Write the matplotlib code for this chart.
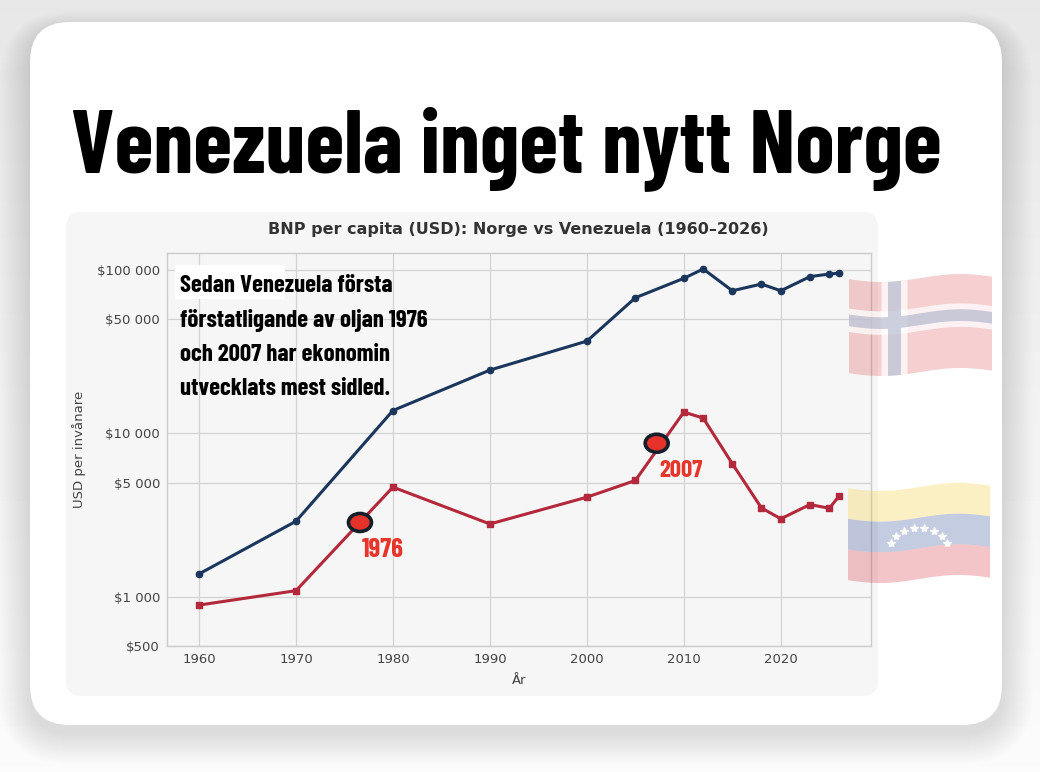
import numpy as np
import matplotlib
matplotlib.use("Agg")
import matplotlib.pyplot as plt
from matplotlib import font_manager as fm
from matplotlib.patches import FancyBboxPatch, Polygon, Rectangle, Ellipse
from matplotlib.lines import Line2D
from matplotlib.transforms import Affine2D
from matplotlib.ticker import FixedLocator, FuncFormatter, NullLocator

# ---------------- data ----------------
years = [1960, 1970, 1980, 1990, 2000, 2005, 2010, 2012, 2015, 2018, 2020, 2023, 2025, 2026]
gdp_norway = [1380, 2900, 13800, 24400, 36700, 67600, 88900, 101400, 74600, 82000, 74600, 91000, 94500, 95500]
gdp_venezuela = [890, 1090, 4690, 2790, 4070, 5150, 13500, 12400, 6520, 3500, 3000, 3670, 3480, 4130]
mark_years = [1976.6, 2007.2]
mark_values = [2850, 8700]
mark_labels = ["1976", "2007"]
y_ticks = [500, 1000, 5000, 10000, 50000, 100000]
x_ticks = [1960, 1970, 1980, 1990, 2000, 2010, 2020]
headline = "Venezuela inget nytt Norge"
chart_title = "BNP per capita (USD): Norge vs Venezuela (1960\u20132026)"
note_lines = ["Sedan Venezuela första", "förstatligande av oljan 1976",
              "och 2007 har ekonomin", "utvecklats mest sidled."]

W, H = 1040, 772
fig = plt.figure(figsize=(W / 100, H / 100), dpi=100, facecolor="#f3f3f3")
# pixel transform, origin top-left
T = Affine2D().scale(1 / 100, -1 / 100).translate(0, H / 100) + fig.dpi_scale_trans

names = {f.name for f in fm.fontManager.ttflist}
cond_prop = dict(family="Barlow Condensed", weight="bold") if "Barlow Condensed" in names \
    else dict(family="Roboto Condensed", weight="bold")

# ------------- background gradient -------------
bg = fig.add_axes([0, 0, 1, 1], zorder=-100)
grad = np.linspace(0.905, 0.985, 256).reshape(-1, 1)
bg.imshow(grad, cmap="gray", vmin=0, vmax=1, aspect="auto", extent=[0, 1, 0, 1], origin="upper")
bg.set_axis_off()

# ------------- shadow, card, panel -------------
for k in range(1, 32):
    fig.patches.append(FancyBboxPatch((30 - k, 22 - k * 0.6 + 8), 972 + 2 * k, 703 + k * 1.6,
                                      boxstyle="round,pad=0,rounding_size=%g" % (40 + k),
                                      transform=T, facecolor="black", edgecolor="none",
                                      alpha=0.0055, zorder=-30))
fig.patches.append(FancyBboxPatch((30, 22), 972, 703, boxstyle="round,pad=0,rounding_size=40",
                                  transform=T, facecolor="white", edgecolor="none", zorder=-20))
fig.patches.append(FancyBboxPatch((66, 212), 812, 484, boxstyle="round,pad=0,rounding_size=16",
                                  transform=T, facecolor="#f6f6f6", edgecolor="none", zorder=-10))

# ------------- axes -------------
ax = fig.add_axes([167 / W, 1 - 646 / H, (871 - 167) / W, (646 - 253) / H])
ax.set_facecolor("#f6f6f6")
ax.set_yscale("log")
ax.plot(years, gdp_norway, color="#1b365d", lw=2.2, marker="o", ms=4.5, zorder=3)
ax.plot(years, gdp_venezuela, color="#b3283a", lw=2.2, marker="s", ms=4.5, zorder=3)
ax.set_xlim(1956.7, 2029.3)
ax.set_ylim(500, 127000)
ax.yaxis.set_major_locator(FixedLocator(y_ticks))
ax.yaxis.set_minor_locator(NullLocator())
ax.yaxis.set_major_formatter(FuncFormatter(lambda v, p: "$" + format(int(round(v)), ",").replace(",", " ")))
ax.set_xticks(x_ticks)
ax.grid(True, color="#d3d3d3", lw=0.9)
ax.set_axisbelow(True)
for s in ax.spines.values():
    s.set_color("#cccccc")
    s.set_linewidth(1.0)
ax.tick_params(length=0, pad=5, labelsize=9.5, colors="#444444")
ax.set_xlabel("År", fontsize=9.5, color="#444444", labelpad=6)
ax.set_ylabel("USD per invånare", fontsize=9.5, color="#444444", labelpad=8)

# marker ellipses for the annotated years
for xv, yv in zip(mark_years, mark_values):
    dx, dy = ax.transData.transform((xv, yv))
    fig.patches.append(Ellipse((dx, H - dy), 23, 18, transform=T, facecolor="#e5322a",
                               edgecolor="#13202c", lw=2.6, zorder=4))

fig.canvas.draw()
renderer = fig.canvas.get_renderer()


def fit(t, target_w):
    bb = t.get_window_extent(renderer)
    t.set_fontsize(t.get_fontsize() * target_w / bb.width)


# ------------- texts -------------
t = fig.text(506, 172, headline, transform=T, ha="center", va="baseline", fontsize=60,
             color="black", **cond_prop)
fit(t, 872)

t = fig.text(518, 234, chart_title, transform=T, ha="center", va="baseline", fontsize=11,
             color="#333333", fontweight="bold", family="DejaVu Sans")
fit(t, 497)

fig.patches.append(Rectangle((175, 265), 110, 34, transform=T, facecolor="white",
                             edgecolor="none", zorder=2))
baselines = [292, 327, 361, 395]
note_texts = []
for ln, by in zip(note_lines, baselines):
    note_texts.append(fig.text(180, by, ln, transform=T, ha="left", va="baseline",
                               fontsize=16, color="black", zorder=5, **cond_prop))
bb = note_texts[1].get_window_extent(renderer)
fs = 16 * 248 / bb.width
for nt in note_texts:
    nt.set_fontsize(fs)

for (lx, ly, w), lab in zip([(362, 557, 42), (659, 477, 43)], mark_labels):
    t = fig.text(lx, ly, lab, transform=T, ha="left", va="baseline", fontsize=16,
                 color="#e8352b", zorder=5, **cond_prop)
    fit(t, w)


# ------------- flags -------------
def flag_poly(x0, y0, w, h, u0, u1, v0, v1, color, alpha, amp=4.0):
    us = np.linspace(u0, u1, 25)
    top = [(x0 + u * w, y0 + v0 * h + amp * np.sin(2 * np.pi * u * 0.9 + 0.3)) for u in us]
    bot = [(x0 + u * w, y0 + v1 * h + amp * np.sin(2 * np.pi * u * 0.9 + 0.3)) for u in us[::-1]]
    fig.patches.append(Polygon(top + bot, closed=True, transform=T, facecolor=color,
                               edgecolor="none", alpha=alpha, zorder=6))


# Norway
nx0, ny0, nw, nh = 849, 278, 143, 94
flag_poly(nx0, ny0, nw, nh, 0, 1, 0, 1, "#d9252b", 0.22)
flag_poly(nx0, ny0, nw, nh, 5 / 22, 9 / 22, 0, 1, "white", 0.75)
flag_poly(nx0, ny0, nw, nh, 0, 1, 5 / 16, 9 / 16, "white", 0.75)
flag_poly(nx0, ny0, nw, nh, 6 / 22, 8 / 22, 0, 1, "#1c3a78", 0.22)
flag_poly(nx0, ny0, nw, nh, 0, 6 / 22, 6 / 16, 8 / 16, "#1c3a78", 0.22)
flag_poly(nx0, ny0, nw, nh, 8 / 22, 1, 6 / 16, 8 / 16, "#1c3a78", 0.22)

# Venezuela
vx0, vy0, vw, vh = 848, 487, 142, 92
flag_poly(vx0, vy0, vw, vh, 0, 1, 0, 1 / 3, "#f2c81a", 0.26)
flag_poly(vx0, vy0, vw, vh, 0, 1, 1 / 3, 2 / 3, "#1e3c8c", 0.26)
flag_poly(vx0, vy0, vw, vh, 0, 1, 2 / 3, 1, "#d22030", 0.26)
ang = np.linspace(np.pi * 0.88, np.pi * 0.12, 8)
sx = 919 + 30 * np.cos(ang)
sy = 552 - 24 * np.sin(ang)
fig.add_artist(Line2D(sx, sy, transform=T, ls="none", marker="*", ms=6, color="white",
                      alpha=0.9, zorder=7))

fig.savefig("out.png", dpi=100, facecolor=fig.get_facecolor())
